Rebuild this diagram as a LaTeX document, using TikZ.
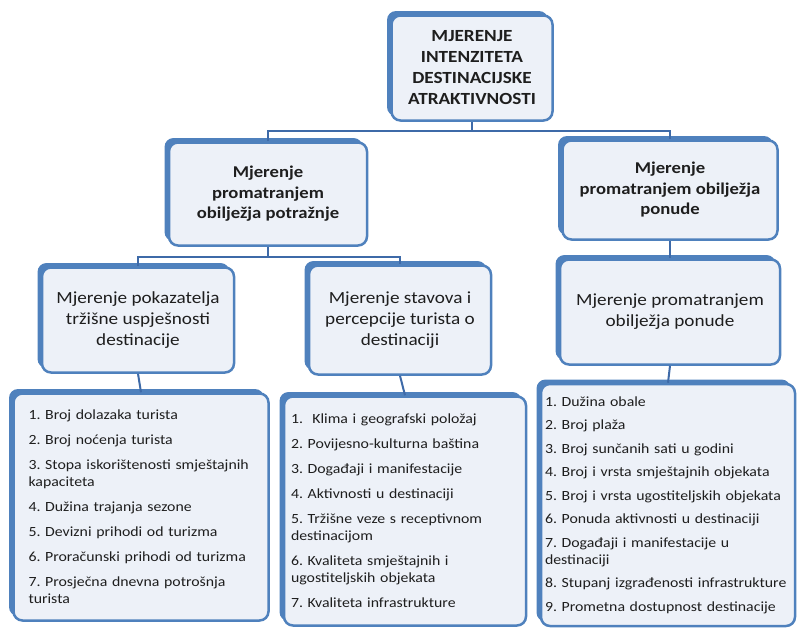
\documentclass[tikz,border=0pt]{standalone}
\usepackage{fontspec}
\setmainfont{Carlito}[FakeStretch=1.13]
\usetikzlibrary{shadows}
\definecolor{boxblue}{RGB}{79,129,189}
\definecolor{linkblue}{RGB}{62,106,168}
\definecolor{boxfill}{RGB}{237,241,248}
\definecolor{txt}{RGB}{30,30,30}
\tikzset{
  box/.style={draw=boxblue, line width=2.5pt, fill=boxfill, rounded corners=9pt,
    text=txt, align=center, inner sep=3pt,
    general shadow={fill=boxblue, shadow xshift=-4.5pt, shadow yshift=4.5pt}},
  headbox/.style={box, font=\bfseries\fontsize{17}{21}\selectfont},
  groupbox/.style={box, font=\bfseries\fontsize{16.5}{20.5}\selectfont},
  areabox/.style={box, font=\fontsize{17}{21}\selectfont},
  listbox/.style={box, align=left, font=\fontsize{14}{17}\selectfont},
  link/.style={draw=linkblue, line width=2pt}
}
\frenchspacing
\begin{document}
\begin{tikzpicture}[x=1pt, y=-1pt]
    \useasboundingbox (0,0) rectangle (797,627);

    \node[headbox, minimum width=161pt, minimum height=105pt] (mjer) at (472,68)
        {MJERENJE\\INTENZITETA\\DESTINACIJSKE\\ATRAKTIVNOSTI};

    \node[groupbox, minimum width=198pt, minimum height=103pt] (potr) at (268,194)
        {Mjerenje\\promatranjem\\obilježja potražnje};
    \node[groupbox, minimum width=215pt, minimum height=99pt] (pon) at (670,190)
        {Mjerenje\\promatranjem obilježja\\ponude};

    \node[areabox, minimum width=192pt, minimum height=105pt] (pokaz) at (138,320)
        {Mjerenje pokazatelja\\tržišne uspješnosti\\destinacije};
    \node[areabox, minimum width=182pt, minimum height=109pt] (stav) at (400,320)
        {Mjerenje stavova i\\percepcije turista o\\destinaciji};
    \node[areabox, minimum width=220pt, minimum height=105pt] (ponuda) at (670,312)
        {Mjerenje promatranjem\\obilježja ponude};

    % popisi pokazatelja
    \node[listbox, text width=225pt, minimum width=255pt, minimum height=227pt] (lista) at (141,507)
        {1. Broj dolazaka turista\\[8pt]
         2. Broj noćenja turista\\[8pt]
         3. Stopa iskorištenosti smještajnih\\kapaciteta\\[8pt]
         4. Dužina trajanja sezone\\[8pt]
         5. Devizni prihodi od turizma\\[8pt]
         6. Proračunski prihodi od turizma\\[8pt]
         7. Prosječna dnevna potrošnja\\turista};
    \node[listbox, text width=228pt, minimum width=242pt, minimum height=229pt] (listb) at (405,511)
        {1.\ \ Klima i geografski položaj\\[8pt]
         2. Povijesno-kulturna baština\\[8pt]
         3. Događaji i manifestacije\\[8pt]
         4. Aktivnosti u destinaciji\\[8pt]
         5. Tržišne veze s receptivnom\\destinacijom\\[8pt]
         6. Kvaliteta smještajnih i\\ugostiteljskih objekata\\[8pt]
         7. Kvaliteta infrastrukture};
    \node[listbox, text width=246pt, minimum width=254pt, minimum height=242pt] (listc) at (668,505)
        {1. Dužina obale\\[6.5pt]
         2. Broj plaža\\[6.5pt]
         3. Broj sunčanih sati u godini\\[6.5pt]
         4. Broj i vrsta smještajnih objekata\\[6.5pt]
         5. Broj i vrsta ugostiteljskih objekata\\[6.5pt]
         6. Ponuda aktivnosti u destinaciji\\[6.5pt]
         7. Događaji i manifestacije u\\destinaciji\\[6.5pt]
         8. Stupanj izgrađenosti infrastrukture\\[6.5pt]
         9. Prometna dostupnost destinacije};

    % veze
    \coordinate (bus1) at (472,131);
    \coordinate (bus2) at (265,257);
    \draw[link] (mjer.south) -- (mjer.south |- bus1);
    \draw[link] (potr.north) |- (bus1) -| (pon.north);
    \draw[link] (potr.south) -- (potr.south |- bus2);
    \draw[link] (pokaz.north) |- (bus2) -| (stav.north);
    \draw[link] (pon.south) -- (ponuda.north);
    \draw[link] (pokaz.south) -- (lista.north);
    \draw[link] (stav.south) -- (listb.north);
    \draw[link] (ponuda.south) -- (listc.north);
\end{tikzpicture}
\end{document}
